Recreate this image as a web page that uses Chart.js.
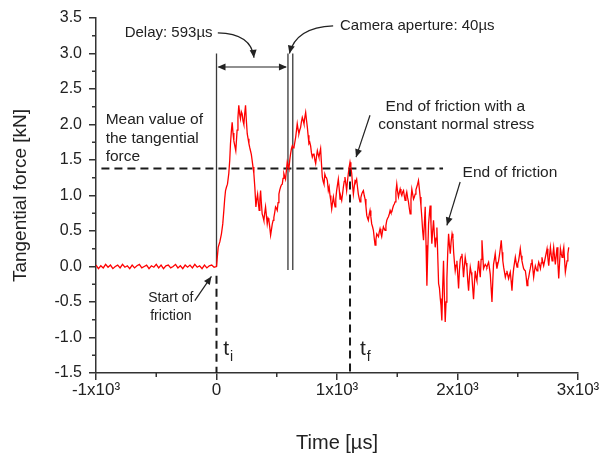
<!DOCTYPE html>
<html lang="en">
<head>
  <meta charset="UTF-8">
  <title>Tangential force during friction</title>
  <script src="https://cdn.jsdelivr.net/npm/chart.js"></script>
  <style>
    html, body { margin: 0; padding: 0; background: #fff; }
  </style>
</head>
<body>
  <canvas id="chart" width="608" height="456"></canvas>
  <script>
    // baseline before contact (us, kN)
    const baselineTime = [
      -1000, -980, -960, -940, -920, -900, -880, -860, -840, -820,
      -800, -780, -760, -740, -720, -700, -680, -660, -640, -620,
      -600, -580, -560, -540, -520, -500, -480, -460, -440, -420,
      -400, -380, -360, -340, -320, -300, -280, -260, -240, -220,
      -200, -180, -160, -140, -120, -100, -80, -60, -40, -20,
      0
    ];
    const baselineForce = [
      0.02, -0.03, 0.01, -0.02, 0.03, -0.01, 0.02, -0.03, 0.00, 0.02,
      -0.02, 0.03, -0.01, 0.01, -0.03, 0.02, -0.02, 0.01, 0.03, -0.02,
      0.00, 0.02, -0.03, 0.01, -0.01, 0.03, -0.02, 0.02, -0.03, 0.01,
      0.02, -0.02, 0.00, 0.03, -0.02, 0.01, -0.03, 0.02, -0.01, 0.02,
      -0.02, 0.03, -0.01, 0.01, -0.03, 0.02, -0.02, 0.01, 0.02, -0.01,
      0.00
    ];

    // friction signal (us, kN)
    const signalTime = [
      5, 14, 28, 41, 52, 61, 68, 75, 83, 91,
      102, 110, 116, 123, 130, 137, 144, 152, 160, 171,
      178, 185, 192, 199, 206, 213, 220, 227, 234, 241,
      248, 255, 262, 269, 275, 282, 289, 296, 303, 310,
      318, 327, 334, 341, 347, 354, 360, 366, 372, 379,
      386, 393, 400, 407, 414, 421, 428, 435, 442, 449,
      456, 463, 470, 476, 483, 490, 497, 504, 511, 518,
      525, 532, 539, 546, 552, 559, 566, 573, 580, 587,
      594, 601, 608, 615, 622, 629, 636, 643, 650, 657,
      664, 670, 677, 684, 691, 698, 705, 712, 719, 726,
      733, 740, 747, 754, 760, 767, 774, 781, 788, 795,
      802, 809, 816, 823, 830, 837, 844, 850, 857, 864,
      871, 878, 885, 892, 899, 906, 913, 920, 928, 935,
      942, 949, 956, 963, 970, 977, 984, 990, 997, 1004,
      1011, 1018, 1025, 1032, 1039, 1046, 1053, 1060, 1066, 1073,
      1080, 1087, 1094, 1101, 1108, 1115, 1122, 1129, 1136, 1143,
      1150, 1157, 1163, 1170, 1177, 1184, 1191, 1198, 1205, 1212,
      1219, 1226, 1233, 1240, 1247, 1254, 1260, 1267, 1274, 1281,
      1288, 1295, 1302, 1309, 1316, 1323, 1330, 1337, 1344, 1350,
      1357, 1364, 1371, 1378, 1385, 1392, 1399, 1406, 1413, 1420,
      1427, 1434, 1441, 1448, 1455, 1462, 1469, 1476, 1482, 1489,
      1496, 1503, 1510, 1517, 1524, 1531, 1538, 1545, 1552, 1558,
      1565, 1572, 1579, 1586, 1593, 1600, 1607, 1614, 1621, 1628,
      1635, 1642, 1649, 1655, 1662, 1669, 1676, 1683, 1690, 1697,
      1704, 1711, 1718, 1725, 1732, 1739, 1746, 1753, 1760, 1767,
      1773, 1780, 1787, 1794, 1801, 1808, 1815, 1822, 1829, 1836,
      1843, 1850, 1857, 1863, 1870, 1877, 1884, 1891, 1898, 1905,
      1912, 1919, 1926, 1933, 1940, 1947, 1955, 1962, 1968, 1975,
      1981, 1988, 1995, 2002, 2009, 2016, 2023, 2030, 2037, 2044,
      2050, 2057, 2064, 2071, 2078, 2085, 2092, 2099, 2106, 2113,
      2119, 2126, 2133, 2140, 2147, 2154, 2161, 2168, 2175, 2182,
      2189, 2196, 2203, 2210, 2216, 2223, 2230, 2237, 2244, 2251,
      2258, 2265, 2272, 2279, 2286, 2293, 2299, 2306, 2313, 2320,
      2327, 2334, 2341, 2348, 2355, 2363, 2370, 2376, 2383, 2390,
      2397, 2404, 2410, 2417, 2424, 2431, 2438, 2445, 2452, 2459,
      2466, 2473, 2480, 2487, 2494, 2500, 2507, 2514, 2521, 2528,
      2535, 2542, 2549, 2556, 2563, 2570, 2577, 2584, 2591, 2598,
      2604, 2611, 2618, 2625, 2632, 2639, 2646, 2653, 2660, 2667,
      2674, 2681, 2688, 2695, 2701, 2708, 2715, 2722, 2729, 2736,
      2743, 2750, 2757, 2764, 2771, 2778, 2785, 2792, 2798, 2805,
      2812, 2819, 2826, 2833, 2840, 2847, 2854, 2861, 2868, 2875,
      2882, 2889, 2895, 2902, 2909, 2916, 2923
    ];
    const signalForce = [
      0.10, 0.27, 0.35, 0.46, 0.60, 0.79, 0.95, 1.07, 1.12, 1.16,
      1.31, 1.50, 1.73, 1.90, 2.03, 1.88, 1.77, 1.70, 1.63, 1.92,
      2.10, 2.27, 2.15, 2.08, 2.18, 2.15, 2.05, 2.00, 2.15, 2.27,
      2.05, 1.87, 1.80, 1.73, 1.68, 1.63, 1.58, 1.49, 1.40, 1.31,
      1.12, 0.84, 0.95, 1.02, 0.90, 0.79, 0.95, 1.07, 0.90, 0.74,
      0.70, 0.65, 0.75, 0.84, 0.72, 0.60, 0.68, 0.65, 0.55, 0.44,
      0.52, 0.60, 0.65, 0.69, 0.76, 0.84, 0.82, 0.79, 0.90, 1.02,
      1.08, 1.12, 1.15, 1.16, 1.24, 1.31, 1.27, 1.23, 1.35, 1.47,
      1.42, 1.38, 1.50, 1.59, 1.66, 1.70, 1.67, 1.68, 1.75, 1.82,
      1.92, 2.01, 1.93, 1.87, 1.92, 1.96, 2.04, 2.10, 2.06, 2.01,
      2.10, 2.17, 2.06, 1.96, 1.85, 1.73, 1.75, 1.70, 1.60, 1.54,
      1.58, 1.59, 1.50, 1.45, 1.55, 1.63, 1.58, 1.54, 1.60, 1.66,
      1.45, 1.26, 1.20, 1.16, 1.30, 1.26, 1.25, 1.21, 1.07, 1.12,
      1.00, 0.92, 0.81, 0.90, 0.98, 0.90, 0.84, 0.95, 1.07, 1.15,
      1.23, 1.10, 0.95, 0.98, 0.93, 1.02, 1.12, 1.20, 1.26, 1.17,
      1.07, 1.20, 1.31, 1.40, 1.47, 1.40, 1.31, 1.15, 1.02, 1.12,
      1.21, 1.20, 1.23, 1.12, 1.02, 0.96, 0.91, 0.97, 1.02, 1.05,
      1.07, 1.00, 0.95, 0.85, 0.72, 0.68, 0.65, 0.73, 0.79, 0.70,
      0.60, 0.56, 0.51, 0.40, 0.30, 0.38, 0.46, 0.44, 0.42, 0.48,
      0.53, 0.47, 0.42, 0.50, 0.56, 0.53, 0.51, 0.58, 0.65, 0.68,
      0.70, 0.74, 0.79, 0.76, 0.77, 0.82, 0.86, 0.88, 0.91, 1.05,
      1.16, 1.05, 0.98, 1.04, 1.09, 1.03, 1.00, 1.05, 1.07, 1.00,
      0.93, 1.00, 1.05, 0.97, 0.91, 0.82, 0.74, 0.95, 1.09, 1.02,
      0.95, 0.98, 1.02, 1.08, 1.12, 1.16, 1.21, 1.10, 0.98, 0.85,
      0.69, 0.50, 0.37, 0.60, 0.84, 0.30, -0.27, 0.20, 0.60, 0.75,
      0.86, 0.60, 0.32, 0.50, 0.65, 0.45, 0.27, 0.40, 0.55, 0.15,
      -0.24, -0.30, -0.45, -0.55, -0.76, -0.30, 0.08, -0.40, -0.78, -0.50,
      -0.17, 0.20, 0.46, 0.30, 0.18, 0.35, 0.46, 0.40, 0.20, 0.05,
      -0.06, 0.02, 0.08, -0.12, -0.31, -0.05, 0.10, 0.14, 0.18, 0.00,
      -0.15, 0.00, 0.13, 0.05, -0.01, -0.20, -0.34, -0.15, -0.01, -0.08,
      -0.13, -0.30, -0.46, -0.25, -0.06, -0.15, -0.20, -0.05, 0.08, -0.05,
      -0.15, 0.10, 0.37, 0.15, -0.03, 0.00, 0.03, 0.01, -0.01, 0.03,
      0.06, -0.02, -0.11, -0.30, -0.50, -0.20, 0.03, 0.10, 0.18, 0.06,
      -0.03, 0.03, 0.08, 0.16, 0.25, 0.37, 0.20, 0.08, -0.01, -0.08,
      -0.15, -0.10, -0.06, -0.12, -0.17, -0.12, -0.08, -0.20, -0.34, -0.15,
      -0.03, 0.05, 0.13, 0.05, -0.01, 0.04, 0.08, 0.16, 0.25, 0.15,
      0.08, 0.02, -0.03, -0.05, -0.06, -0.15, -0.27, -0.20, -0.15, -0.08,
      -0.03, 0.04, 0.10, -0.03, -0.15, -0.06, 0.01, -0.03, -0.06, 0.00,
      0.06, 0.02, -0.03, 0.05, 0.13, 0.06, 0.01, 0.07, 0.13, 0.19,
      0.25, 0.12, 0.01, 0.15, 0.27, 0.16, 0.08, 0.18, 0.27, 0.14,
      0.03, 0.16, 0.27, 0.05, -0.17, 0.05, 0.25, 0.18, 0.13, 0.20,
      0.27, 0.08, -0.08, 0.00, 0.08, 0.18, 0.27
    ];

    // camera trigger lines: start of friction, shutter open, shutter close (us)
    const cameraTimes = [0, 593, 633];
    const cameraTop = 3.0;
    const cameraBottom = [0.0, -0.05, -0.05];
    const meanForce = 1.38;
    const meanFrom = -955, meanTo = 1880;
    const tStart = 0, tEnd = 1108;
    const axisMin = -1.5;

    const xMinorTicks = [-500, 500, 1500, 2500];
    const yMinorTicks = [-1.25, -0.75, -0.25, 0.25, 0.75, 1.25, 1.75, 2.25, 2.75, 3.25];

    const FONT = "'Liberation Sans', Arial, sans-serif";
    const INK = '#222';
    const AXIS = '#333';

    const allForce = baselineForce.concat(signalForce);
    const trace = baselineTime.concat(signalTime).map((t, i) => ({ x: t, y: allForce[i] }));

    const refLine = (pts, dashed) => ({
      data: pts, showLine: true, pointRadius: 0,
      borderColor: dashed ? '#1a1a1a' : '#3a3a3a',
      borderWidth: dashed ? 2 : 1.3,
      borderDash: dashed ? [8, 5] : []
    });

    const datasets = [
      { data: trace, showLine: true, pointRadius: 0, borderColor: '#ff0000', borderWidth: 1.3 }
    ];
    cameraTimes.forEach((t, i) => {
      datasets.push(refLine([{ x: t, y: cameraTop }, { x: t, y: cameraBottom[i] }], false));
    });
    datasets.push(refLine([{ x: meanFrom, y: meanForce }, { x: meanTo, y: meanForce }], true));
    datasets.push(refLine([{ x: tEnd, y: meanForce }, { x: tEnd, y: axisMin }], true));
    datasets.push(refLine([{ x: tStart, y: -0.13 }, { x: tStart, y: axisMin }], true));

    // short minor ticks outside the axes
    const minorTicks = {
      id: 'minorTicks',
      afterDraw(chart) {
        const { ctx, chartArea, scales: { x, y } } = chart;
        ctx.save();
        ctx.strokeStyle = AXIS;
        ctx.lineWidth = 1.5;
        ctx.beginPath();
        xMinorTicks.forEach(t => {
          const px = x.getPixelForValue(t);
          ctx.moveTo(px, chartArea.bottom);
          ctx.lineTo(px, chartArea.bottom + 4);
        });
        yMinorTicks.forEach(v => {
          const py = y.getPixelForValue(v);
          ctx.moveTo(chartArea.left - 4, py);
          ctx.lineTo(chartArea.left, py);
        });
        ctx.stroke();
        ctx.restore();
      }
    };

    // text labels and arrows
    const notes = {
      id: 'notes',
      afterDatasetsDraw(chart) {
        const { ctx, scales: { x, y } } = chart;
        const X = t => x.getPixelForValue(t);
        const Y = v => y.getPixelForValue(v);

        const head = (px, py, ang, len = 8, w = 3.5) => {
          ctx.beginPath();
          ctx.moveTo(px, py);
          ctx.lineTo(px - len * Math.cos(ang) + w * Math.sin(ang), py - len * Math.sin(ang) - w * Math.cos(ang));
          ctx.lineTo(px - len * Math.cos(ang) - w * Math.sin(ang), py - len * Math.sin(ang) + w * Math.cos(ang));
          ctx.closePath();
          ctx.fill();
        };
        const arrow = (t0, v0, t1, v1) => {
          const sx = X(t0), sy = Y(v0), ex = X(t1), ey = Y(v1);
          ctx.beginPath(); ctx.moveTo(sx, sy); ctx.lineTo(ex, ey); ctx.stroke();
          head(ex, ey, Math.atan2(ey - sy, ex - sx));
        };
        const curve = (t0, v0, tc, vc, t1, v1) => {
          const sx = X(t0), sy = Y(v0), cx = X(tc), cy = Y(vc), ex = X(t1), ey = Y(v1);
          ctx.beginPath(); ctx.moveTo(sx, sy); ctx.quadraticCurveTo(cx, cy, ex, ey); ctx.stroke();
          head(ex, ey, Math.atan2(ey - cy, ex - cx));
        };
        const text = (s, t, v, align, size) => {
          ctx.font = size + 'px ' + FONT;
          ctx.textAlign = align;
          ctx.fillText(s, X(t), Y(v));
        };
        const sub = (s, sb, t, v) => {
          ctx.font = '21px ' + FONT;
          ctx.textAlign = 'left';
          const px = X(t), py = Y(v);
          ctx.fillText(s, px, py);
          const w = ctx.measureText(s).width;
          ctx.font = '14px ' + FONT;
          ctx.fillText(sb, px + w + 1, py + 8);
        };

        ctx.save();
        ctx.fillStyle = INK;
        ctx.strokeStyle = INK;
        ctx.lineWidth = 1.2;
        ctx.textBaseline = 'middle';

        text('Delay: 593µs', -762, 3.29, 'left', 15);
        curve(11, 3.29, 290, 3.28, 311, 2.94);

        text('Camera aperture: 40µs', 1025, 3.39, 'left', 15);
        curve(968, 3.39, 660, 3.37, 605, 3.0);

        // delay span between trigger and shutter
        const ay = Y(2.81), ax0 = X(cameraTimes[0]), ax1 = X(cameraTimes[1]);
        ctx.beginPath(); ctx.moveTo(ax0 + 2, ay); ctx.lineTo(ax1 - 2, ay); ctx.stroke();
        head(ax0 + 1, ay, Math.PI);
        head(ax1 - 1, ay, 0);

        text('Mean value of', -920, 2.07, 'left', 15.5);
        text('the tangential', -920, 1.80, 'left', 15.5);
        text('force', -920, 1.54, 'left', 15.5);

        text('End of friction with a', 1982, 2.25, 'center', 15.5);
        text('constant normal stress', 1990, 2.00, 'center', 15.5);
        arrow(1274, 2.13, 1158, 1.54);

        text('End of friction', 2042, 1.32, 'left', 15.5);
        arrow(2022, 1.19, 1912, 0.58);

        text('Start of', -379, -0.44, 'center', 14);
        text('friction', -379, -0.70, 'center', 14);
        arrow(-180, -0.48, -42, -0.14);

        sub('t', 'i', 55, -1.16);
        sub('t', 'f', 1191, -1.16);

        ctx.restore();
      }
    };

    const chart = new Chart(document.getElementById('chart').getContext('2d'), {
      type: 'scatter',
      data: { datasets: datasets },
      options: {
        responsive: false,
        animation: false,
        devicePixelRatio: 1,
        layout: { padding: { top: 18, right: 30, left: 0, bottom: 0 } },
        plugins: { legend: { display: false }, tooltip: { enabled: false } },
        scales: {
          x: {
            type: 'linear',
            min: -1000,
            max: 3000,
            border: { display: true, color: AXIS, width: 1.5 },
            grid: { drawOnChartArea: false, drawTicks: true, tickLength: 7, color: AXIS, lineWidth: 1.5 },
            ticks: {
              stepSize: 1000,
              autoSkip: false,
              maxRotation: 0,
              padding: 0,
              color: INK,
              font: { family: FONT, size: 17 },
              callback: v => v === 0 ? '0' : (v / 1000) + 'x10³'
            },
            title: {
              display: true,
              text: 'Time [µs]',
              color: INK,
              font: { family: FONT, size: 20 },
              padding: { top: 0, bottom: 1 }
            },
            afterFit: s => { s.height = 83; }
          },
          y: {
            min: -1.5,
            max: 3.5,
            border: { display: true, color: AXIS, width: 1.5 },
            grid: { drawOnChartArea: false, drawTicks: true, tickLength: 7, color: AXIS, lineWidth: 1.5 },
            ticks: {
              stepSize: 0.5,
              padding: 7,
              color: INK,
              font: { family: FONT, size: 16 },
              callback: v => v.toFixed(1)
            },
            title: {
              display: true,
              text: 'Tangential force [kN]',
              color: INK,
              font: { family: FONT, size: 19 },
              padding: { top: 9, bottom: 0 }
            },
            afterFit: s => { s.width = 96; }
          }
        }
      },
      plugins: [minorTicks, notes]
    });
  </script>
</body>
</html>
